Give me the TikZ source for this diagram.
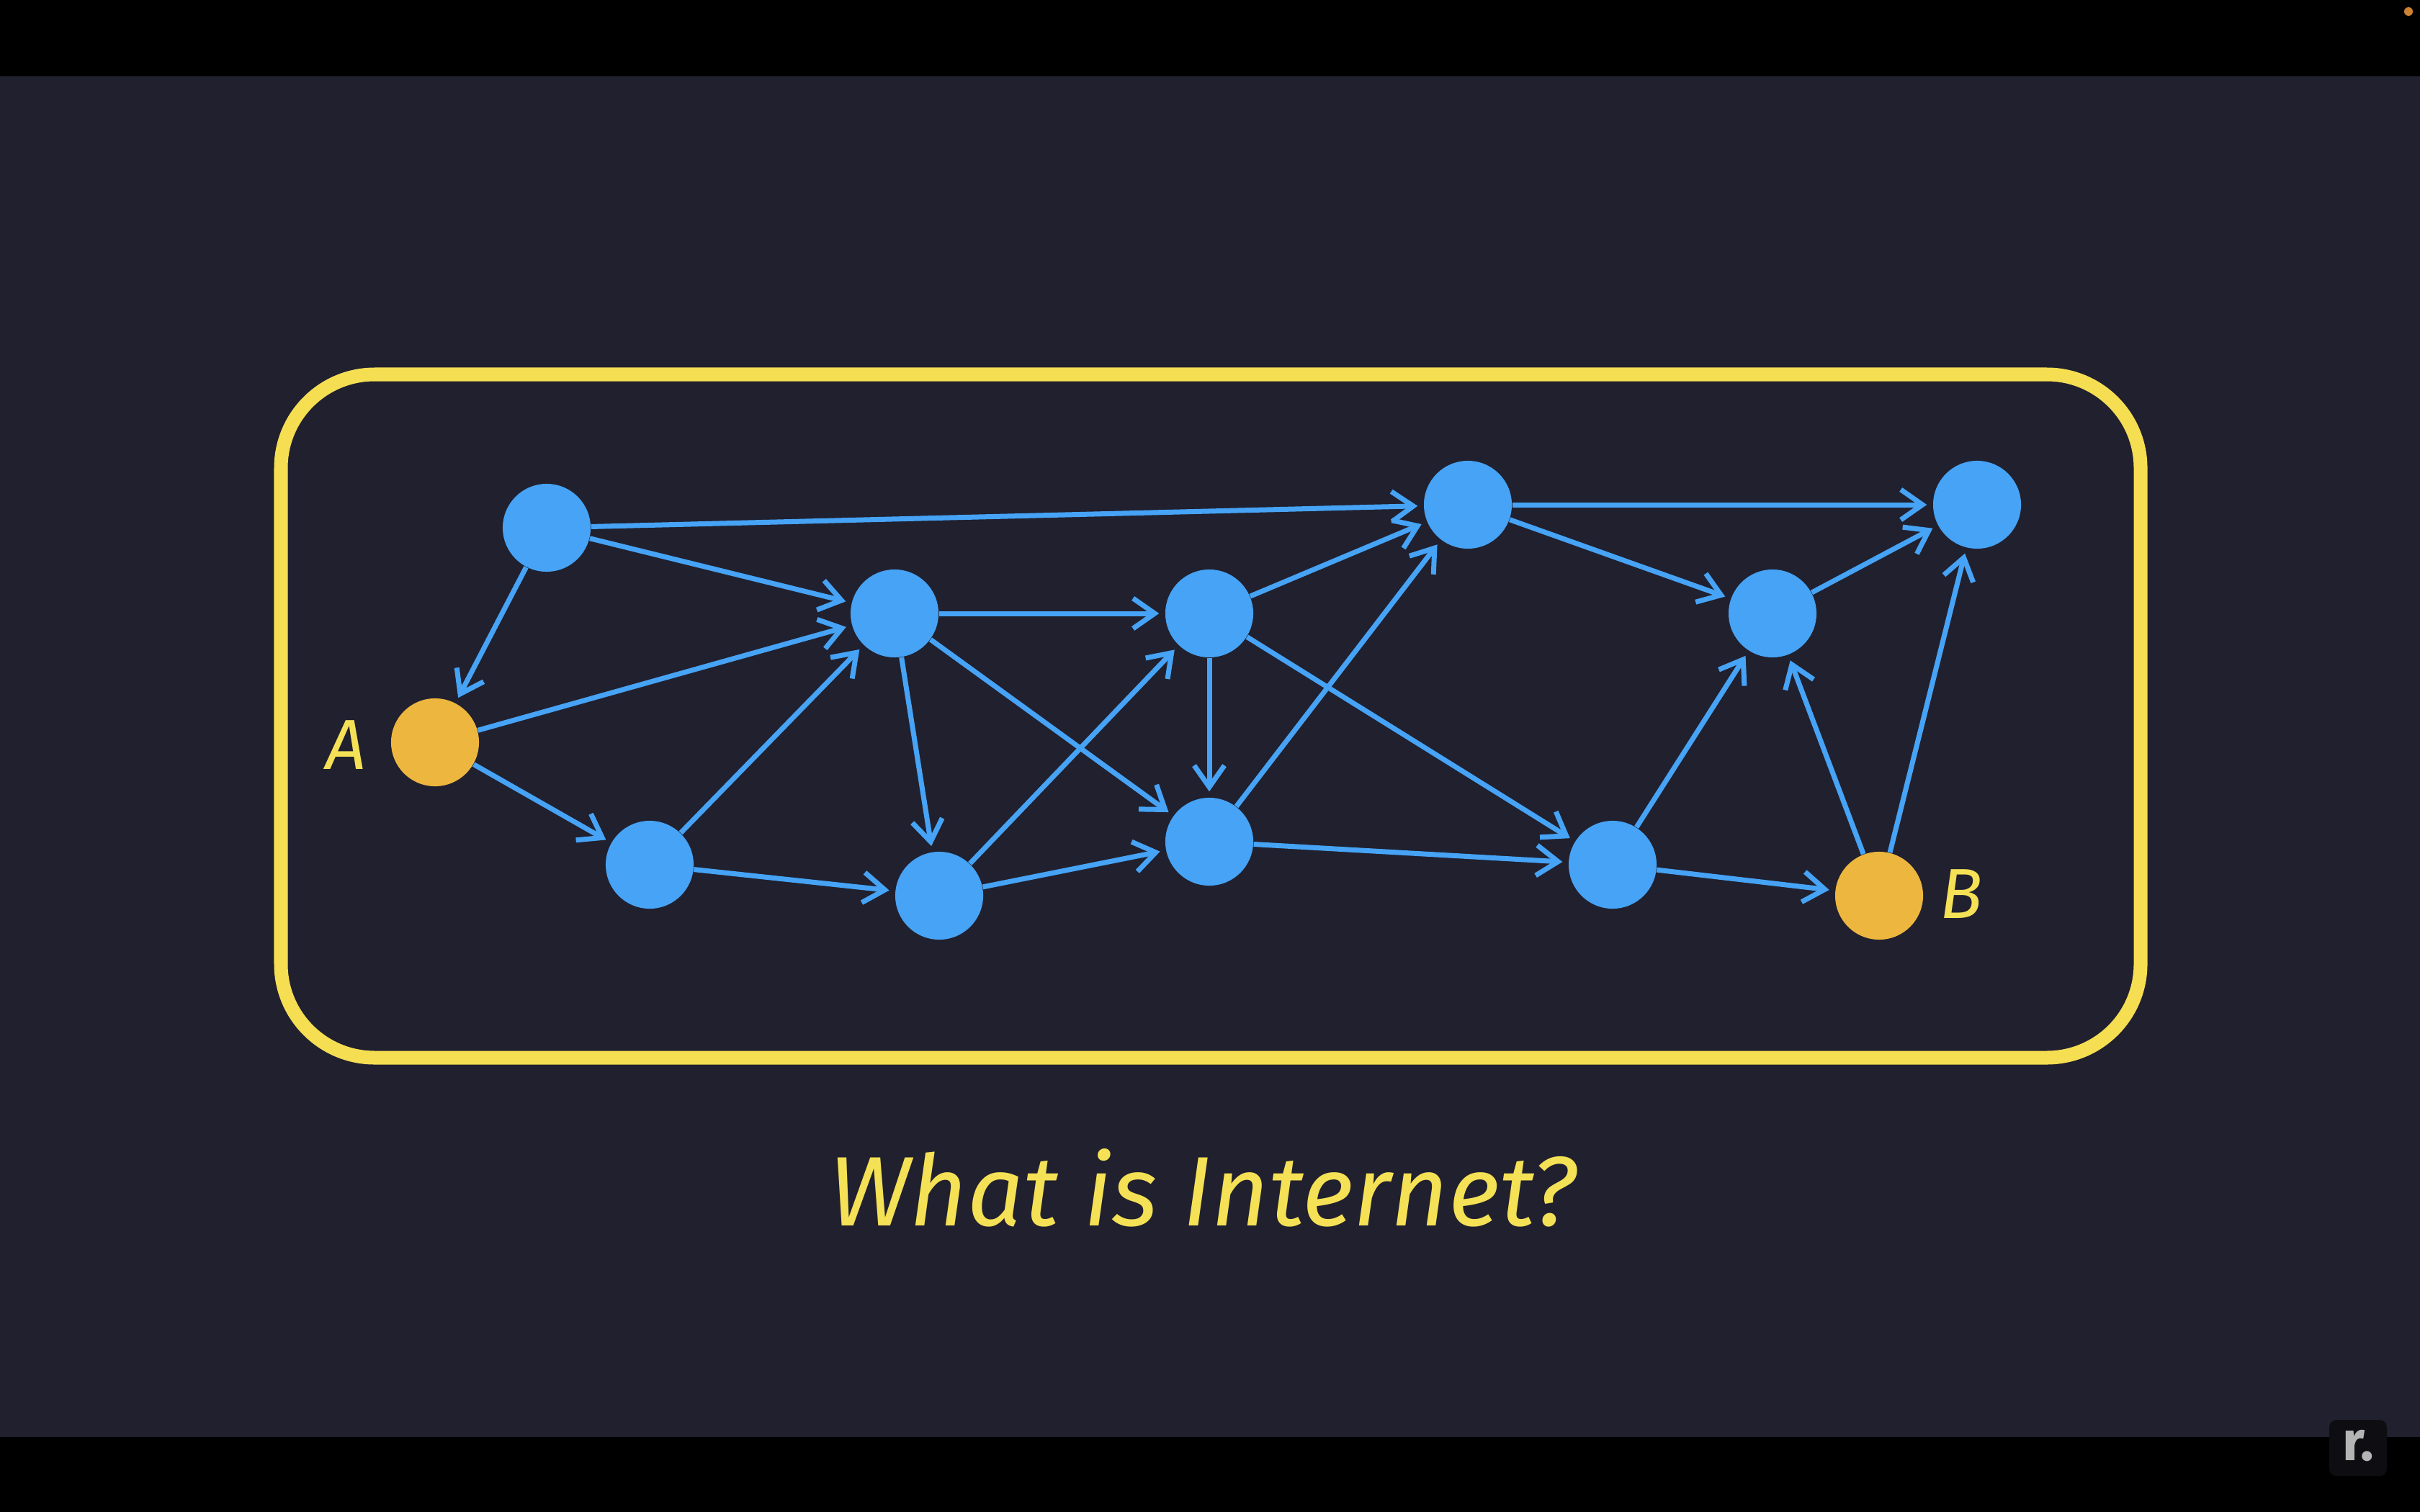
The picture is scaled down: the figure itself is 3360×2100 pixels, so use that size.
\documentclass[tikz,border=0pt]{standalone}
\usepackage{fontspec}
\setmainfont{Fira Sans}
\setsansfont{Fira Sans}
\usepackage{tikz}
\usetikzlibrary{arrows.meta}

\begin{document}
\begin{tikzpicture}[x=0.01cm,y=-0.01cm,
    router/.style={circle,fill=nodeblue,minimum size=1.22cm,inner sep=0pt},
    host/.style={circle,fill=hostorange,minimum size=1.22cm,inner sep=0pt},
    link/.style={draw=nodeblue,line width=0.07cm,-{Straight Barb[length=0.3cm,width=0.42cm]},shorten >=0.08cm},
    tag/.style={text=textyellow,anchor=base,font=\itshape\fontsize{28}{32}\selectfont}]
    % Colors
    \definecolor{bgnavy}{RGB}{32,32,47}
    \definecolor{nodeblue}{RGB}{70,163,245}
    \definecolor{hostorange}{RGB}{237,182,62}
    \definecolor{frameyellow}{RGB}{245,222,82}
    \definecolor{textyellow}{RGB}{245,225,85}
    \definecolor{logobox}{RGB}{14,14,18}
    \definecolor{logogray}{RGB}{180,180,180}
    \definecolor{dotorange}{RGB}{205,130,50}
    % Background
    \useasboundingbox (0,0) rectangle (3360,2100);
    \fill[bgnavy] (0,0) rectangle (3360,2100);
    \fill[black] (0,0) rectangle (3360,106);
    \fill[black] (0,1996) rectangle (3360,2100);
    \fill[dotorange] (3344,16) circle (0.06cm);
    \fill[logobox,rounded corners=0.1cm] (3234,1972) rectangle (3314,2050);
    \node[text=logogray,font=\sffamily\bfseries\fontsize{22}{24}\selectfont] (logo) at (3274,2008) {r.};
    % Frame
    \draw[frameyellow,line width=0.19cm,rounded corners=1.3cm] (390,520) rectangle (2972,1469);
    % Routers
    \node[router] (r1) at (759,733) {};
    \node[router] (r2) at (1242,852) {};
    \node[router] (r3) at (902,1201) {};
    \node[router] (r4) at (1304,1244) {};
    \node[router] (r5) at (1679,852) {};
    \node[router] (r6) at (1679,1169) {};
    \node[router] (r7) at (2038,701) {};
    \node[router] (r8) at (2461,852) {};
    \node[router] (r9) at (2745,701) {};
    \node[router] (r10) at (2239,1201) {};
    % Hosts
    \node[host] (hostA) at (604,1031) {};
    \node[host] (hostB) at (2609,1244) {};
    % Links
    \draw[link] (r1) -- (r7);
    \draw[link] (r1) -- (r2);
    \draw[link] (r1) -- (hostA);
    \draw[link] (hostA) -- (r2);
    \draw[link] (hostA) -- (r3);
    \draw[link] (r3) -- (r2);
    \draw[link] (r3) -- (r4);
    \draw[link] (r2) -- (r5);
    \draw[link] (r2) -- (r4);
    \draw[link] (r2) -- (r6);
    \draw[link] (r4) -- (r5);
    \draw[link] (r4) -- (r6);
    \draw[link] (r5) -- (r6);
    \draw[link] (r5) -- (r7);
    \draw[link] (r5) -- (r10);
    \draw[link] (r6) -- (r7);
    \draw[link] (r6) -- (r10);
    \draw[link] (r7) -- (r9);
    \draw[link] (r7) -- (r8);
    \draw[link] (r8) -- (r9);
    \draw[link] (r10) -- (r8);
    \draw[link] (r10) -- (hostB);
    \draw[link] (hostB) -- (r8);
    \draw[link] (hostB) -- (r9);
    % Labels
    \node[tag] (labelA) at (480,1068) {A};
    \node[tag] (labelB) at (2723,1275) {B};
    \node[tag,font=\itshape\fontsize{39}{44}\selectfont] (title) at (1670,1702) {What is Internet?};
\end{tikzpicture}
\end{document}
